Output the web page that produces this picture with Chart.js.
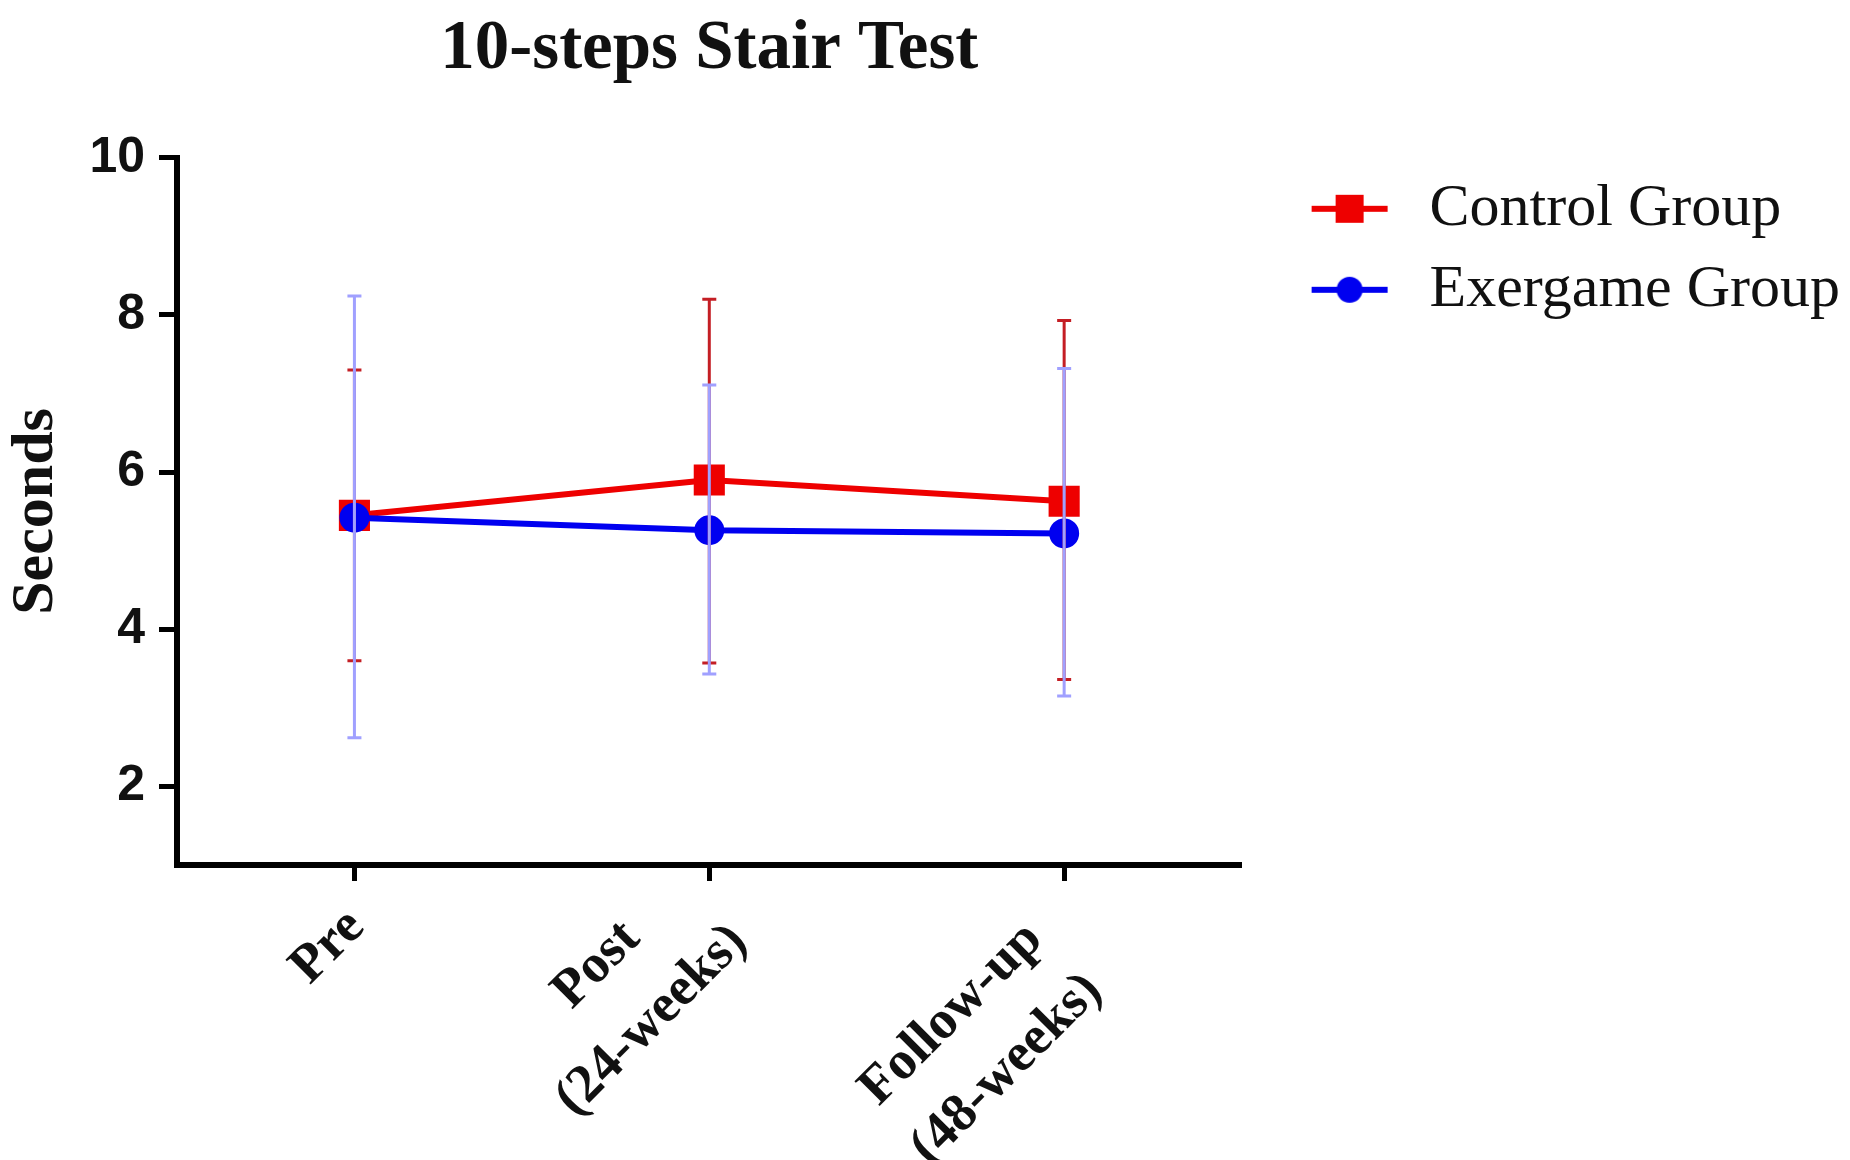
<!DOCTYPE html>
<html>
<head>
<meta charset="utf-8">
<title>10-steps Stair Test</title>
<script src="https://cdn.jsdelivr.net/npm/chart.js@4.4.1/dist/chart.umd.min.js"></script>
<style>
  html, body { margin: 0; padding: 0; background: #fff; }
  #wrap { width: 1850px; height: 1160px; position: relative; }
</style>
</head>
<body>
<div id="wrap"><canvas id="chart"></canvas></div>
<script>
// data
const timepoints = [['Pre'], ['Post', '(24-weeks)'], ['Follow-up', '(48-weeks)']];
const yTicks = [2, 4, 6, 8, 10];

const controlMean = [5.45, 5.90, 5.63];
const controlUpper = [7.30, 8.20, 7.93];
const controlLower = [3.60, 3.57, 3.36];

const exergameMean = [5.42, 5.26, 5.22];
const exergameUpper = [8.24, 7.11, 7.32];
const exergameLower = [2.62, 3.43, 3.15];

const RED = 'rgb(238, 0, 0)';
const BLUE = 'rgb(0, 0, 240)';

// legend symbol: short line with the marker in the middle
function legendSymbol(color, shape) {
  const c = document.createElement('canvas');
  c.width = 137; c.height = 34;
  const g = c.getContext('2d');
  g.strokeStyle = color;
  g.fillStyle = color;
  g.lineWidth = 6;
  g.beginPath();
  g.moveTo(49, 17);
  g.lineTo(125, 17);
  g.stroke();
  if (shape === 'rect') {
    g.fillRect(87 - 14, 17 - 14, 28, 28);
  } else {
    g.beginPath();
    g.arc(87, 17, 13, 0, Math.PI * 2);
    g.fill();
  }
  return c;
}
const symbols = [legendSymbol(RED, 'rect'), legendSymbol(BLUE, 'circle')];

const errorBars = {
  id: 'errorBars',
  afterDatasetsDraw(chart) {
    const { ctx, scales: { x, y } } = chart;
    const sets = [
      { upper: controlUpper, lower: controlLower, color: 'rgb(196, 30, 36)' },
      { upper: exergameUpper, lower: exergameLower, color: 'rgb(160, 160, 255)' },
    ];
    ctx.save();
    sets.forEach(s => {
      ctx.strokeStyle = s.color;
      ctx.lineWidth = 3;
      s.upper.forEach((u, i) => {
        const px = x.getPixelForValue(i);
        const top = y.getPixelForValue(u);
        const bot = y.getPixelForValue(s.lower[i]);
        ctx.beginPath();
        ctx.moveTo(px, top); ctx.lineTo(px, bot);
        ctx.moveTo(px - 7, top); ctx.lineTo(px + 7, top);
        ctx.moveTo(px - 7, bot); ctx.lineTo(px + 7, bot);
        ctx.stroke();
      });
    });
    ctx.restore();
  }
};

// rotated category labels, lines centred on each other
// (the original figure does not place the three blocks quite the same way, hence the nudge)
const slantLabels = {
  id: 'slantLabels',
  afterDraw(chart) {
    const { ctx, scales: { x } } = chart;
    const size = 54, lead = 78;
    const nudge = [4, -9, 40];
    ctx.save();
    ctx.font = 'bold ' + size + 'px "Liberation Serif", "Times New Roman", serif';
    ctx.fillStyle = '#111';
    ctx.textBaseline = 'middle';
    ctx.textAlign = 'center';
    timepoints.forEach((lines, i) => {
      const px = x.getPixelForValue(i);
      const longest = Math.max(...lines.map(t => ctx.measureText(t).width));
      ctx.save();
      ctx.translate(px + 2, x.top + 50 + nudge[i]);
      ctx.rotate(-Math.PI / 4);
      const off = (lines.length - 1) * lead / 2;
      lines.forEach((t, k) => {
        ctx.fillText(t, -longest / 2, k * lead - off);
      });
      ctx.restore();
    });
    ctx.restore();
  }
};

const ctx = document.getElementById('chart');
new Chart(ctx, {
  type: 'line',
  data: {
    labels: timepoints,
    datasets: [
      {
        label: 'Control Group',
        data: controlMean,
        borderColor: RED,
        backgroundColor: RED,
        borderWidth: 6,
        pointStyle: 'rect',
        pointRadius: 22,
        pointBorderWidth: 0,
        tension: 0,
        order: 1,
      },
      {
        label: 'Exergame Group',
        data: exergameMean,
        borderColor: BLUE,
        backgroundColor: BLUE,
        borderWidth: 6,
        pointStyle: 'circle',
        pointRadius: 15,
        pointBorderWidth: 0,
        tension: 0,
        order: 0,
      },
    ],
  },
  options: {
    responsive: true,
    maintainAspectRatio: false,
    animation: false,
    layout: { padding: { top: 0, right: 0, bottom: 0, left: 0 } },
    scales: {
      x: {
        type: 'category',
        offset: true,
        grid: { drawOnChartArea: false, offset: false, drawTicks: true, tickLength: 16, tickWidth: 5, tickColor: '#000' },
        border: { display: true, color: '#000', width: 6 },
        ticks: { display: false },
        afterFit: (scale) => { scale.height = 295; },
      },
      y: {
        min: 1,
        max: 10,
        afterBuildTicks: (scale) => { scale.ticks = yTicks.map(v => ({ value: v })); },
        grid: { drawOnChartArea: false, drawTicks: true, tickLength: 18, tickWidth: 5, tickColor: '#000' },
        border: { display: true, color: '#000', width: 6 },
        ticks: {
          padding: 14,
          color: '#111',
          font: { family: '"Liberation Sans", Arial, sans-serif', size: 50, weight: 'bold' },
        },
        title: {
          display: true,
          text: 'Seconds',
          color: '#111',
          padding: { top: 0, bottom: 0 },
          font: { family: '"Liberation Serif", "Times New Roman", serif', size: 60, weight: 'bold' },
        },
        afterFit: (scale) => { scale.width = 177; },
      },
    },
    plugins: {
      title: {
        display: true,
        fullSize: false,
        text: '10-steps Stair Test',
        color: '#111',
        padding: { top: 9, bottom: 66 },
        font: { family: '"Liberation Serif", "Times New Roman", serif', size: 69, weight: 'bold' },
      },
      legend: {
        display: true,
        position: 'right',
        align: 'start',
        fullSize: false,
        maxWidth: 700,
        labels: {
          usePointStyle: true,
          pointStyleWidth: 137,
          padding: 21,
          color: '#111',
          font: { family: '"Liberation Serif", "Times New Roman", serif', size: 60 },
          sort: (a, b) => a.datasetIndex - b.datasetIndex,
          generateLabels: (chart) => {
            const items = Chart.defaults.plugins.legend.labels.generateLabels(chart);
            items.forEach(it => { it.pointStyle = symbols[it.datasetIndex]; });
            return items;
          },
        },
      },
      tooltip: { enabled: false },
    },
  },
  plugins: [errorBars, slantLabels],
});
</script>
</body>
</html>
